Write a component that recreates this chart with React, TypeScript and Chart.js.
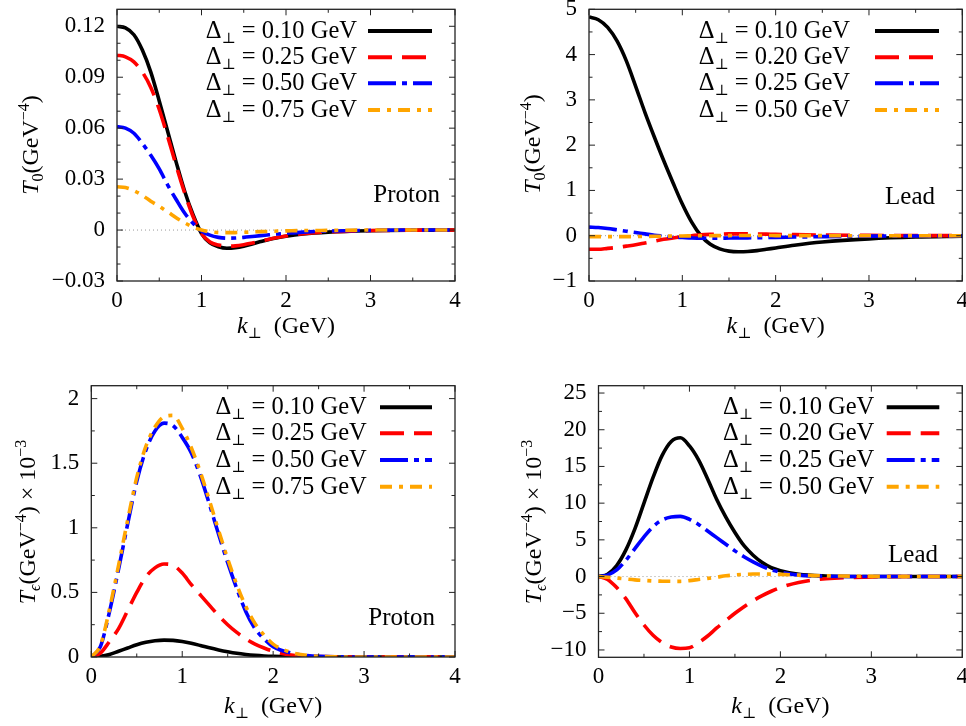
import React, { useEffect, useRef } from 'react';
import { Chart, registerables } from 'chart.js';

Chart.register(...registerables);

const FONT = '"Liberation Serif", "DejaVu Serif", serif';

// transverse momentum samples (GeV)
const K = [0, 0.1, 0.2, 0.3, 0.4, 0.5, 0.6, 0.7, 0.8, 0.9, 1.0, 1.1, 1.2, 1.3, 1.4, 1.5, 1.6, 1.7, 1.8, 1.9, 2.0, 2.2, 2.5, 3.0, 3.5, 4.0];

// Panel (a): T0 proton
const PROTON_DELTAS = ['0.10', '0.25', '0.50', '0.75'];
const T0_P_010 = [0.120, 0.119, 0.115, 0.106, 0.093, 0.076, 0.058, 0.040, 0.023, 0.009, -0.002, -0.0075, -0.0098, -0.0107, -0.0104, -0.0095, -0.0082, -0.0068, -0.0055, -0.0045, -0.0036, -0.0023, -0.0012, -0.0004, -0.0001, 0];
const T0_P_025 = [0.103, 0.102, 0.099, 0.093, 0.084, 0.071, 0.055, 0.038, 0.022, 0.008, -0.002, -0.007, -0.0088, -0.0095, -0.0093, -0.0086, -0.0076, -0.0065, -0.0054, -0.0044, -0.0035, -0.0022, -0.0011, -0.0003, -0.0001, 0];
const T0_P_050 = [0.061, 0.060, 0.057, 0.051, 0.044, 0.036, 0.0265, 0.018, 0.010, 0.004, -0.0005, -0.003, -0.0043, -0.0048, -0.0047, -0.0043, -0.0038, -0.0033, -0.0028, -0.0023, -0.0019, -0.0012, -0.0006, -0.0002, 0, 0];
const T0_P_075 = [0.0255, 0.025, 0.0232, 0.0205, 0.017, 0.014, 0.0107, 0.0073, 0.0043, 0.0018, 0.0, -0.001, -0.0014, -0.0015, -0.0015, -0.0013, -0.0011, -0.0009, -0.0008, -0.0006, -0.0005, -0.0003, -0.0002, 0, 0, 0];

// Panel (b): T0 lead
const LEAD_DELTAS = ['0.10', '0.20', '0.25', '0.50'];
const T0_L_010 = [4.83, 4.77, 4.60, 4.30, 3.86, 3.30, 2.72, 2.18, 1.66, 1.17, 0.70, 0.30, 0.0, -0.19, -0.29, -0.34, -0.355, -0.35, -0.33, -0.30, -0.27, -0.21, -0.14, -0.07, -0.03, -0.01];
const T0_L_020 = [-0.30, -0.30, -0.28, -0.26, -0.23, -0.20, -0.16, -0.12, -0.08, -0.05, -0.02, 0.0, 0.02, 0.03, 0.035, 0.04, 0.04, 0.04, 0.038, 0.035, 0.03, 0.025, 0.015, 0.007, 0.003, 0.001];
const T0_L_025 = [0.19, 0.18, 0.16, 0.13, 0.10, 0.07, 0.04, 0.01, -0.01, -0.03, -0.04, -0.05, -0.055, -0.055, -0.055, -0.052, -0.05, -0.047, -0.044, -0.04, -0.036, -0.03, -0.02, -0.01, -0.005, -0.002];
const T0_L_050 = [-0.02, -0.02, -0.02, -0.02, -0.02, -0.018, -0.015, -0.012, -0.01, -0.008, -0.005, -0.003, -0.001, 0.0, 0.002, 0.003, 0.004, 0.004, 0.004, 0.004, 0.003, 0.002, 0.001, 0, 0, 0];

// Panel (c): T_eps proton (x 1e-3)
const TE_P_010 = [0, 0.005, 0.02, 0.045, 0.07, 0.095, 0.114, 0.126, 0.131, 0.129, 0.12, 0.106, 0.089, 0.071, 0.055, 0.041, 0.029, 0.02, 0.013, 0.008, 0.005, 0.002, 0.0005, 0, 0, 0];
const TE_P_025 = [0, 0.03, 0.12, 0.22, 0.36, 0.50, 0.62, 0.69, 0.72, 0.71, 0.65, 0.56, 0.48, 0.40, 0.32, 0.25, 0.19, 0.14, 0.10, 0.07, 0.045, 0.015, 0.003, 0, 0, 0];
const TE_P_050 = [0, 0.08, 0.35, 0.68, 1.03, 1.36, 1.60, 1.75, 1.81, 1.79, 1.70, 1.58, 1.40, 1.18, 0.95, 0.73, 0.53, 0.35, 0.22, 0.14, 0.08, 0.03, 0.005, 0, 0, 0];
const TE_P_075 = [0, 0.09, 0.37, 0.71, 1.06, 1.39, 1.63, 1.78, 1.86, 1.87, 1.77, 1.62, 1.43, 1.21, 0.98, 0.76, 0.56, 0.39, 0.26, 0.17, 0.10, 0.035, 0.006, 0, 0, 0];

// Panel (d): T_eps lead (x 1e-3)
const TE_L_010 = [0, 0.3, 1.5, 3.6, 6.5, 10.0, 13.5, 16.5, 18.4, 18.9, 17.8, 15.9, 13.3, 10.5, 8.1, 6.0, 4.2, 2.9, 1.9, 1.2, 0.8, 0.3, 0.08, 0.01, 0, 0];
const TE_L_020 = [0, -0.4, -1.5, -3.0, -4.9, -6.6, -8.0, -9.0, -9.6, -9.8, -9.7, -9.0, -8.1, -7.0, -6.0, -5.0, -4.1, -3.3, -2.6, -2.0, -1.5, -0.8, -0.3, -0.05, 0, 0];
const TE_L_025 = [0, 0.2, 0.9, 2.2, 3.8, 5.4, 6.8, 7.7, 8.1, 8.2, 7.8, 7.1, 6.2, 5.3, 4.4, 3.5, 2.7, 2.0, 1.4, 0.9, 0.6, 0.2, 0.05, 0, 0, 0];
const TE_L_050 = [0, -0.1, -0.2, -0.33, -0.45, -0.53, -0.6, -0.63, -0.65, -0.65, -0.55, -0.4, -0.25, -0.08, 0.1, 0.22, 0.3, 0.34, 0.35, 0.33, 0.3, 0.2, 0.1, 0.03, 0, 0];

// Tick values
const X_TICKS = [0, 1, 2, 3, 4];
const X_MINOR = [0.5, 1.5, 2.5, 3.5];
const Y_TICKS_A = [-0.03, 0, 0.03, 0.06, 0.09, 0.12];
const Y_MINOR_A = [-0.02, -0.01, 0.01, 0.02, 0.04, 0.05, 0.07, 0.08, 0.10, 0.11];
const Y_TICKS_B = [-1, 0, 1, 2, 3, 4, 5];
const Y_MINOR_B = [-0.5, 0.5, 1.5, 2.5, 3.5, 4.5];
const Y_TICKS_C = [0, 0.5, 1, 1.5, 2];
const Y_MINOR_C = [0.25, 0.75, 1.25, 1.75];
const Y_TICKS_D = [-10, -5, 0, 5, 10, 15, 20, 25];
const Y_MINOR_D = [-7.5, -2.5, 2.5, 7.5, 12.5, 17.5, 22.5];

// styles
const COLORS = ['#000000', '#ff0000', '#0000ff', '#ffa500'];
const DASHES = [[], [24, 10], [28, 6, 5, 6], [12, 7, 4, 7]];

type Seg = { t: string; s?: number; dy?: number; it?: boolean };

const fmtMinus = (v: number, d: number) => (v === 0 ? '0' : (v < 0 ? '\u2212' : '') + Math.abs(v).toFixed(d));

function drawRich(ctx: CanvasRenderingContext2D, segs: Seg[], x: number, y: number, align: 'left' | 'center' | 'right', base = 23) {
  const fonts = segs.map((g) => `${g.it ? 'italic ' : ''}${g.s ?? base}px ${FONT}`);
  const widths = segs.map((g, i) => {
    ctx.font = fonts[i];
    return ctx.measureText(g.t).width;
  });
  const total = widths.reduce((a, b) => a + b, 0);
  let cx = align === 'left' ? x : align === 'center' ? x - total / 2 : x - total;
  ctx.textAlign = 'left';
  ctx.textBaseline = 'alphabetic';
  segs.forEach((g, i) => {
    ctx.font = fonts[i];
    ctx.fillText(g.t, cx, y + (g.dy ?? 0));
    cx += widths[i];
  });
}

type Panel = {
  box: { x: number; y: number; w: number; h: number };
  plot: { l: number; t: number; r: number; b: number };
  yMin: number;
  yMax: number;
  yTicks: number[];
  yMinor: number[];
  yFmt: (v: number) => string;
  deltas: string[];
  values: number[][];
  textRight: number;
  lineL: number;
  lineR: number;
  legendY: number[];
  tag: string;
  tagX: number;
  tagY: number;
  yTitle: Seg[];
  yTitleX: number;
  yTitleY: number;
  xTitleY: number;
};

const YT_T0: Seg[] = [{ t: 'T', it: true }, { t: '0', s: 16, dy: 5 }, { t: '(GeV' }, { t: '\u22124', s: 16, dy: -9 }, { t: ')' }];
const YT_TE: Seg[] = [{ t: 'T', it: true }, { t: '\u03f5', s: 16, dy: 5, it: true }, { t: '(GeV' }, { t: '\u22124', s: 16, dy: -9 }, { t: ') \u00d7 10' }, { t: '\u22123', s: 16, dy: -9 }];

const PANELS: Panel[] = [
  {
    box: { x: 0, y: 0, w: 483, h: 345 },
    plot: { l: 117, t: 9.3, r: 455, b: 281 },
    yMin: -0.03, yMax: 0.13, yTicks: Y_TICKS_A, yMinor: Y_MINOR_A, yFmt: (v) => fmtMinus(v, 2),
    deltas: PROTON_DELTAS, values: [T0_P_010, T0_P_025, T0_P_050, T0_P_075],
    textRight: 357, lineL: 368, lineR: 432, legendY: [31, 57.3, 83.3, 110],
    tag: 'Proton', tagX: 440, tagY: 202,
    yTitle: YT_T0, yTitleX: 38, yTitleY: 145, xTitleY: 333,
  },
  {
    box: { x: 483, y: 0, w: 483, h: 345 },
    plot: { l: 589, t: 9.3, r: 962.3, b: 281 },
    yMin: -1, yMax: 5, yTicks: Y_TICKS_B, yMinor: Y_MINOR_B, yFmt: (v) => fmtMinus(v, 0),
    deltas: LEAD_DELTAS, values: [T0_L_010, T0_L_020, T0_L_025, T0_L_050],
    textRight: 850, lineL: 875, lineR: 939, legendY: [31, 57.3, 83.3, 110],
    tag: 'Lead', tagX: 935, tagY: 204,
    yTitle: YT_T0, yTitleX: 540, yTitleY: 144, xTitleY: 333,
  },
  {
    box: { x: 0, y: 345, w: 483, h: 381 },
    plot: { l: 91.3, t: 385.7, r: 455, b: 657 },
    yMin: 0, yMax: 2.1, yTicks: Y_TICKS_C, yMinor: Y_MINOR_C, yFmt: (v) => String(v),
    deltas: PROTON_DELTAS, values: [TE_P_010, TE_P_025, TE_P_050, TE_P_075],
    textRight: 366.7, lineL: 380, lineR: 432, legendY: [407.3, 433.3, 460, 486.7],
    tag: 'Proton', tagX: 435, tagY: 625,
    yTitle: YT_TE, yTitleX: 35, yTitleY: 522, xTitleY: 713,
  },
  {
    box: { x: 483, y: 345, w: 483, h: 381 },
    plot: { l: 598.5, t: 385.7, r: 962.3, b: 657.3 },
    yMin: -11, yMax: 26, yTicks: Y_TICKS_D, yMinor: Y_MINOR_D, yFmt: (v) => fmtMinus(v, 0),
    deltas: LEAD_DELTAS, values: [TE_L_010, TE_L_020, TE_L_025, TE_L_050],
    textRight: 874.3, lineL: 886.7, lineR: 939.3, legendY: [407.3, 433.3, 460, 486.7],
    tag: 'Lead', tagX: 938, tagY: 562,
    yTitle: YT_TE, yTitleX: 541, yTitleY: 522, xTitleY: 713,
  },
];

const XAX_H = 30;
const LEFT_PAD = 4;

function makeDecor(p: Panel) {
  return {
    id: 'decor',
    beforeDatasetsDraw(chart: any) {
      const { ctx, chartArea: a, scales } = chart;
      const y0 = scales.y.getPixelForValue(0);
      if (y0 > a.top + 2 && y0 < a.bottom - 2) {
        ctx.save();
        ctx.strokeStyle = '#9a9a9a';
        ctx.lineWidth = 1;
        ctx.setLineDash([1, 3]);
        ctx.beginPath();
        ctx.moveTo(a.left, y0);
        ctx.lineTo(a.right, y0);
        ctx.stroke();
        ctx.restore();
      }
    },
    afterDraw(chart: any) {
      const { ctx, chartArea: a, scales } = chart;
      const xs = scales.x;
      const ys = scales.y;
      ctx.save();
      // frame
      ctx.strokeStyle = '#222';
      ctx.lineWidth = 1.3;
      ctx.setLineDash([]);
      ctx.strokeRect(a.left, a.top, a.right - a.left, a.bottom - a.top);
      // ticks
      ctx.lineWidth = 1;
      const tickX = (v: number, len: number) => {
        const px = xs.getPixelForValue(v);
        ctx.beginPath();
        ctx.moveTo(px, a.bottom);
        ctx.lineTo(px, a.bottom - len);
        ctx.moveTo(px, a.top);
        ctx.lineTo(px, a.top + len);
        ctx.stroke();
      };
      const tickY = (v: number, len: number) => {
        const py = ys.getPixelForValue(v);
        ctx.beginPath();
        ctx.moveTo(a.left, py);
        ctx.lineTo(a.left + len, py);
        ctx.moveTo(a.right, py);
        ctx.lineTo(a.right - len, py);
        ctx.stroke();
      };
      X_TICKS.forEach((v) => tickX(v, 6));
      X_MINOR.forEach((v) => tickX(v, 3.5));
      p.yTicks.forEach((v) => tickY(v, 6));
      p.yMinor.forEach((v) => tickY(v, 3.5));

      // page coordinates from here on
      ctx.translate(-p.box.x, -p.box.y);
      ctx.fillStyle = '#000';
      // legend
      p.deltas.forEach((d, i) => {
        const ly = p.legendY[i];
        ctx.save();
        ctx.strokeStyle = COLORS[i];
        ctx.lineWidth = 4;
        ctx.lineCap = 'butt';
        ctx.setLineDash(DASHES[i]);
        ctx.beginPath();
        ctx.moveTo(p.lineL, ly);
        ctx.lineTo(p.lineR, ly);
        ctx.stroke();
        ctx.restore();
        drawRich(ctx, [{ t: '\u0394' }, { t: '\u22a5', s: 15, dy: 5 }, { t: ' = ' + d + ' GeV' }], p.textRight, ly + 7, 'right', 24.5);
      });
      // tag
      ctx.font = `25px ${FONT}`;
      ctx.textAlign = 'right';
      ctx.textBaseline = 'alphabetic';
      ctx.fillText(p.tag, p.tagX, p.tagY);
      // x title
      drawRich(ctx, [{ t: 'k', it: true }, { t: '\u22a5', s: 15, dy: 5 }, { t: '  (GeV)' }], (p.plot.l + p.plot.r) / 2, p.xTitleY, 'center', 24);
      // y title
      ctx.save();
      ctx.translate(p.yTitleX, p.yTitleY);
      ctx.rotate(-Math.PI / 2);
      drawRich(ctx, p.yTitle, 0, 0, 'center', 24);
      ctx.restore();
      ctx.restore();
    },
  };
}

function buildConfig(p: Panel): any {
  const yAxW = p.plot.l - p.box.x - LEFT_PAD;
  const datasets = p.values.map((vals, i) => ({
    label: '\u0394 = ' + p.deltas[i] + ' GeV',
    data: K.map((k, j) => ({ x: k, y: vals[j] })),
    borderColor: COLORS[i],
    backgroundColor: COLORS[i],
    borderWidth: 3.6,
    borderDash: DASHES[i],
    borderCapStyle: 'butt',
    pointRadius: 0,
    fill: false,
    cubicInterpolationMode: 'monotone',
    order: 4 - i,
  }));
  const tickFont = { family: FONT, size: 23 };
  return {
    type: 'line',
    data: { datasets },
    options: {
      responsive: false,
      animation: false,
      devicePixelRatio: 1,
      events: [],
      layout: {
        padding: {
          left: LEFT_PAD,
          top: p.plot.t - p.box.y,
          right: p.box.x + p.box.w - p.plot.r,
          bottom: p.box.y + p.box.h - p.plot.b - XAX_H,
        },
      },
      plugins: { legend: { display: false }, tooltip: { enabled: false } },
      scales: {
        x: {
          type: 'linear',
          min: 0,
          max: 4,
          afterBuildTicks: (s: any) => {
            s.ticks = X_TICKS.map((v) => ({ value: v }));
          },
          afterFit: (s: any) => {
            s.height = XAX_H;
            s.paddingLeft = 0;
            s.paddingRight = 0;
          },
          grid: { display: false, drawTicks: false },
          border: { display: false },
          ticks: { font: tickFont, color: '#000', padding: 6, maxRotation: 0, autoSkip: false, callback: (v: number) => String(v) },
        },
        y: {
          type: 'linear',
          min: p.yMin,
          max: p.yMax,
          afterBuildTicks: (s: any) => {
            s.ticks = p.yTicks.map((v) => ({ value: v }));
          },
          afterFit: (s: any) => {
            s.width = yAxW;
            s.paddingTop = 0;
            s.paddingBottom = 0;
          },
          grid: { display: false, drawTicks: false },
          border: { display: false },
          ticks: { font: tickFont, color: '#000', padding: 12, autoSkip: false, callback: (v: number) => p.yFmt(v) },
        },
      },
    },
    plugins: [makeDecor(p)],
  };
}

function PanelChart({ p }: { p: Panel }) {
  const ref = useRef<HTMLCanvasElement>(null);
  useEffect(() => {
    const chart = new Chart(ref.current as HTMLCanvasElement, buildConfig(p));
    return () => chart.destroy();
  }, [p]);
  return (
    <canvas
      ref={ref}
      width={p.box.w}
      height={p.box.h}
      style={{ position: 'absolute', left: p.box.x, top: p.box.y, width: p.box.w, height: p.box.h, display: 'block' }}
    />
  );
}

export default function App() {
  return (
    <div style={{ position: 'absolute', left: 0, top: 0, width: 966, height: 726, background: '#fff', overflow: 'hidden' }}>
      {PANELS.map((p, i) => (
        <PanelChart key={i} p={p} />
      ))}
    </div>
  );
}
